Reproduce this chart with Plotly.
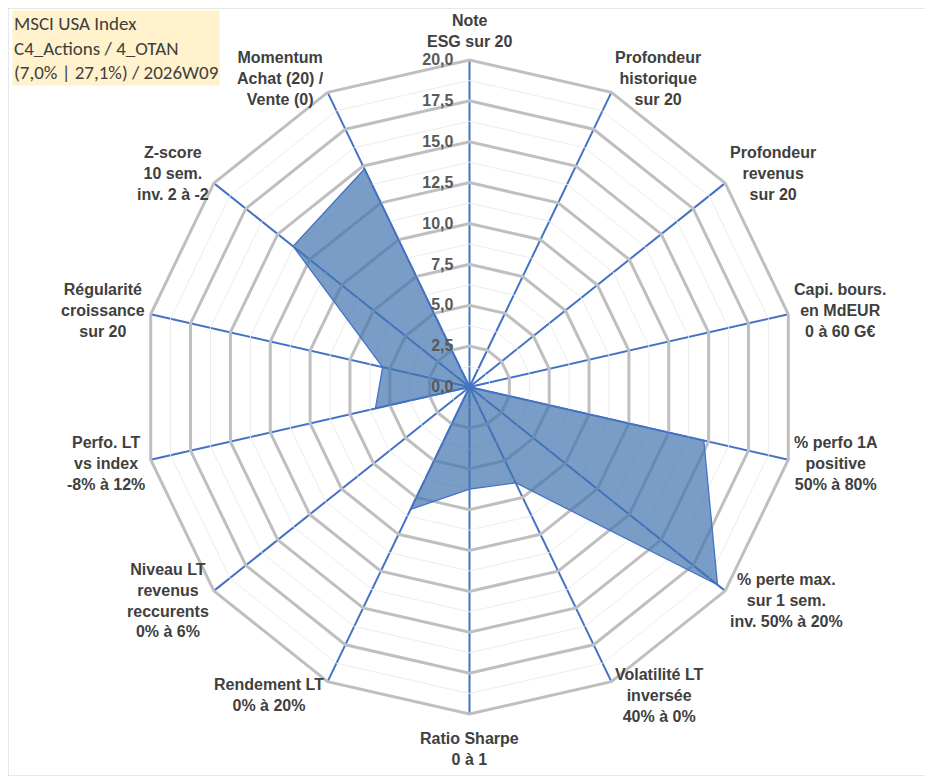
import numpy as np
import plotly.graph_objects as go

# axes of the radar, clockwise from the top
criteres = [
    "Note<br>ESG sur 20",
    "Profondeur<br>historique<br>sur 20",
    "Profondeur<br>revenus<br>sur 20",
    "Capi. bours.<br>en MdEUR<br>0 à 60 G€",
    "% perfo 1A<br>positive<br>50% à 80%",
    "% perte max.<br>sur 1 sem.<br>inv. 50% à 20%",
    "Volatilité LT<br>inversée<br>40% à 0%",
    "Ratio Sharpe<br>0 à 1",
    "Rendement LT<br>0% à 20%",
    "Niveau LT<br>revenus<br>reccurents<br>0% à 6%",
    "Perfo. LT<br>vs index<br>-8% à 12%",
    "Régularité<br>croissance<br>sur 20",
    "Z-score<br>10 sem.<br>inv. 2 à -2",
    "Momentum<br>Achat (20) /<br>Vente (0)",
]
notes = [0, 0, 0, 0, 14.7, 19.4, 6.5, 6.25, 8.3, 0, 5.9, 5.45, 13.8, 14.8]

minor_rings = [1.25, 3.75, 6.25, 8.75, 11.25, 13.75, 16.25, 18.75]

titre = "MSCI USA Index<br>C4_Actions / 4_OTAN<br>(7,0% | 27,1%) / 2026W09"

# page body has an 8px margin, so the figure starts at (8, 8)
OFF = 8
W, H = 933 - OFF, 776 - OFF
cx, cy, R = 469.5 - OFF, 387 - OFF, 327

fig = go.Figure()

# light minor grid rings
for v in minor_rings:
    fig.add_trace(go.Scatterpolar(
        r=[v] * (len(criteres) + 1), theta=criteres + criteres[:1],
        mode="lines", line=dict(color="#ececec", width=1),
        hoverinfo="skip", showlegend=False))

fig.add_trace(go.Scatterpolar(
    r=notes + notes[:1], theta=criteres + criteres[:1],
    mode="lines", fill="toself",
    fillcolor="rgba(65,116,176,0.7)",
    line=dict(color="#4472c4", width=1.3),
    showlegend=False))

# category labels placed Excel-style, just outside each vertex
annots = []
n = len(criteres)
for i, lab in enumerate(criteres):
    a = np.radians(i * 360 / n)
    dx, dy = np.sin(a), -np.cos(a)
    vx, vy = cx + R * dx, cy + R * dy
    if abs(dx) < 0.1:
        xa, ya = "center", ("bottom" if dy < 0 else "top")
        px, py = vx, vy + (8 if dy < 0 else 14) * np.sign(dy)
    else:
        xa, ya = ("left" if dx > 0 else "right"), "middle"
        px, py = vx + 4 * dx, vy + 15 * dy
    annots.append(dict(
        text=lab, xref="paper", yref="paper", x=px / W, y=1 - py / H,
        xanchor=xa, yanchor=ya, align="center", showarrow=False,
        font=dict(size=16, color="#404040",
                  family="Liberation Sans, Arial, sans-serif", weight="bold")))

annots.append(dict(
    text=titre, xref="paper", yref="paper", x=(12 - OFF) / W, y=1 - (10 - OFF) / H,
    xanchor="left", yanchor="top", align="left", showarrow=False,
    bgcolor="#fff2cc", borderpad=1,
    font=dict(family="Carlito, Calibri, Lato, sans-serif", size=19, color="#404040")))

fig.update_layout(
    width=W, height=H,
    margin=dict(l=0, r=0, t=0, b=0),
    paper_bgcolor="white", plot_bgcolor="white",
    separators=", ",
    font=dict(family="Liberation Sans, Arial, sans-serif", color="#404040"),
    polar=dict(
        domain=dict(x=[(cx - R) / W, (cx + R) / W],
                    y=[1 - (cy + R) / H, 1 - (cy - R) / H]),
        gridshape="linear",
        bgcolor="white",
        radialaxis=dict(
            range=[0, 20], dtick=2.5, tick0=0, tickformat=".1f",
            angle=90, tickangle=90, side="counterclockwise",
            showline=False, ticks="outside", ticklen=10, tickcolor="rgba(0,0,0,0)",
            gridcolor="#bfbfbf", gridwidth=3,
            tickfont=dict(size=16, color="#595959",
                          family="Liberation Sans, Arial, sans-serif", weight="bold"),
        ),
        angularaxis=dict(
            direction="clockwise", rotation=90,
            showline=True, linecolor="#bfbfbf", linewidth=3,
            gridcolor="#4472c4", gridwidth=1.5, ticks="",
            showticklabels=False,
        ),
    ),
    annotations=annots,
    shapes=[dict(type="rect", xref="paper", yref="paper", x0=0, y0=0, x1=1, y1=1,
                 line=dict(color="#d0d0d0", width=1))],
)

fig.write_html("out.html")
